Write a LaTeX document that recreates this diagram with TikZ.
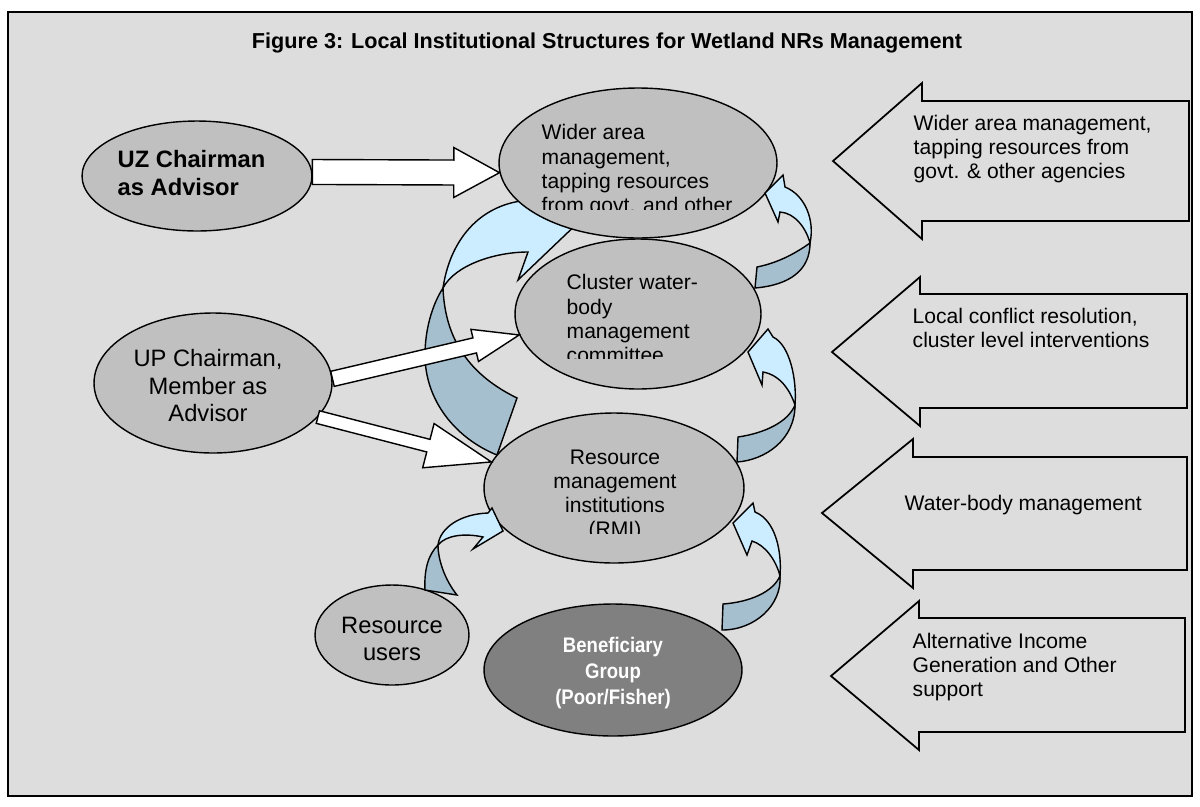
\documentclass[tikz,border=0pt]{standalone}
\usepackage{fontspec}
\setmainfont{Liberation Sans}
\newfontfamily\narrowsans[FakeStretch=0.88]{Liberation Sans}
\usepackage{xcolor}
\usetikzlibrary{shapes.geometric,calc}

\definecolor{panel}{HTML}{DDDDDD}
\definecolor{ovalgray}{HTML}{C0C0C0}
\definecolor{ovaldark}{HTML}{808080}
\definecolor{ribfront}{HTML}{CCECFF}
\definecolor{ribback}{HTML}{A6BFCF}

\tikzset{
  oval/.style={ellipse, draw, fill=ovalgray, inner sep=0pt},
  txt/.style={inner sep=0pt, align=left, font=\fontsize{12}{13.8}\selectfont},
  bigtxt/.style={inner sep=0pt, align=center, font=\fontsize{13.5}{15.6}\selectfont},
  sidearrow/.style={draw, line width=1pt},
  frontpart/.style={draw, fill=ribfront},
  backpart/.style={draw, fill=ribback}
}

% white block arrow: from, to, shaft half width, head half width, head length
\newcommand{\blockarrow}[5]{%
  \path (#1) coordinate (ba-s) (#2) coordinate (ba-t);
  \path ($(ba-t)!#5!(ba-s)$) coordinate (ba-h);
  \draw[fill=white] ($(ba-s)!#3!90:(ba-t)$) -- ($(ba-h)!#3!90:(ba-t)$) -- ($(ba-h)!#4!90:(ba-t)$)
    -- (ba-t) -- ($(ba-h)!#4!-90:(ba-t)$) -- ($(ba-h)!#3!-90:(ba-t)$) -- ($(ba-s)!#3!-90:(ba-t)$) -- cycle;
}

\begin{document}
\begin{tikzpicture}[x=0.02cm, y=-0.02cm, line width=0.8pt]
  \useasboundingbox (0,0) rectangle (1200,806);
  \draw [fill=panel, line width=1.2pt] (8,12) rectangle (1192,796);
  \node (title) at (607,43) {\bfseries\fontsize{12.3}{14}\selectfont Figure 3: Local Institutional Structures for Wetland NRs Management};

  % big turn from the RMI up to the top oval, runs under the ovals
  \draw [backpart] (497,455) .. controls (455,438) and (425,400) .. (425,355) .. controls (425,330) and (432,305) .. (443,288)
    .. controls (445,340) and (470,375) .. (517,398) -- cycle;
  \draw [frontpart] (443,288) .. controls (450,240) and (480,203) .. (530,200) -- (585,216) -- (518,280) -- (528,252)
    .. controls (495,252) and (455,265) .. (443,288) -- cycle;

  % ovals
  \node [oval, minimum width=4.6cm, minimum height=2.2cm] (uz) at (197,176) {};
  \node [oval, minimum width=4.76cm, minimum height=2.8cm] (up) at (213,383) {};
  \node [oval, minimum width=5.56cm, minimum height=3cm] (wider) at (638,163) {};
  \node [oval, minimum width=4.92cm, minimum height=3cm] (cluster) at (638,314) {};
  \node [oval, minimum width=5.2cm, minimum height=3cm] (rmi) at (614,488) {};
  \node [oval, minimum width=3.08cm, minimum height=2cm] (users) at (392,635) {};
  \node [oval, fill=ovaldark, minimum width=5.16cm, minimum height=2.64cm] (benef) at (613,670) {};

  \blockarrow{uz.2}{wider.184}{7.1pt}{14.2pt}{26pt}
  \blockarrow{up.2}{cluster.190}{4.4pt}{9.4pt}{26pt}
  \blockarrow{up.-18}{rmi.168}{3.7pt}{13pt}{37pt}

  % oval texts
  \node [bigtxt, align=left, anchor=north west, font=\bfseries\fontsize{13.5}{15.9}\selectfont] (uz-text) at (117,150) {UZ Chairman\\as Advisor};
  \node [bigtxt, anchor=north] (up-text) at (208,349) {UP Chairman,\\Member as\\Advisor};
  \node [bigtxt, anchor=north, font=\fontsize{13.5}{15.9}\selectfont] (users-text) at (392,616) {Resource\\users};
  \node [txt, align=center, anchor=north, text=white, font=\narrowsans\bfseries\fontsize{12}{14.7}\selectfont] (benef-text) at (613,637) {Beneficiary\\Group\\(Poor/Fisher)};
  \begin{scope}
    \clip (500,100) rectangle (780,209);
    \node [txt, anchor=north west] (wider-text) at (541,124) {Wider area\\management,\\tapping resources\\from govt. and other};
  \end{scope}
  \begin{scope}
    \clip (520,250) rectangle (760,358);
    \node [txt, anchor=north west] (cluster-text) at (566,274) {Cluster water-\\body\\management\\committee};
  \end{scope}
  \begin{scope}
    \clip (490,420) rectangle (740,533);
    \node [txt, align=center, anchor=north] (rmi-text) at (615,449) {Resource\\management\\institutions\\(RMI)};
  \end{scope}

  % turning arrows between the levels
  \draw [backpart] (757,267) -- (755,288) .. controls (790,285) and (810,270) .. (810,243)
    .. controls (800,250) and (782,262) .. (757,267) -- cycle;
  \draw [frontpart] (810,243) .. controls (815,220) and (805,195) .. (785,187) -- (783,175) -- (765,193) -- (778,222) -- (780,212)
    .. controls (795,213) and (806,228) .. (810,243) -- cycle;
  \draw [backpart] (738,437) -- (737,462) .. controls (765,460) and (795,440) .. (795,405)
    .. controls (788,422) and (765,433) .. (738,437) -- cycle;
  \draw [frontpart] (795,405) .. controls (797,380) and (790,345) .. (773,337) -- (768,329) -- (748,352) -- (762,385) -- (763,372)
    .. controls (780,375) and (790,390) .. (795,405) -- cycle;
  \draw [backpart] (723,604) -- (722,630) .. controls (755,630) and (782,605) .. (780,576)
    .. controls (773,592) and (750,602) .. (723,604) -- cycle;
  \draw [frontpart] (780,576) .. controls (782,550) and (775,520) .. (755,512) -- (753,503) -- (733,523) -- (747,555) -- (752,541)
    .. controls (765,545) and (776,560) .. (780,576) -- cycle;
  \draw [backpart] (425,590) -- (457,595) .. controls (445,580) and (438,560) .. (438,545)
    .. controls (428,555) and (424,570) .. (425,590) -- cycle;
  \draw [frontpart] (438,545) .. controls (440,528) and (460,514) .. (488,513) -- (492,508) -- (503,531) -- (473,549) -- (483,537)
    .. controls (465,533) and (446,535) .. (438,545) -- cycle;

  % level arrows on the right
  \draw [sidearrow] (833,161) -- (922,83) -- (922,101) -- (1189,101) -- (1189,221) -- (922,221) -- (922,239) -- cycle;
  \draw [sidearrow] (832,352) -- (920,277) -- (920,294) -- (1187,294) -- (1187,408) -- (920,408) -- (920,426) -- cycle;
  \draw [sidearrow] (822,513) -- (913,439) -- (913,457) -- (1187,457) -- (1187,570) -- (913,570) -- (913,588) -- cycle;
  \draw [sidearrow] (831,676) -- (919,601) -- (919,618) -- (1185,618) -- (1185,732) -- (919,732) -- (919,750) -- cycle;
  \node [txt, anchor=north west] (wider-note) at (913,114.5) {Wider area management,\\tapping resources from\\govt. \& other agencies};
  \node [txt, anchor=north west] (cluster-note) at (912,307.5) {Local conflict resolution,\\cluster level interventions};
  \node [txt, anchor=north west] (rmi-note) at (904,494.5) {Water-body management};
  \node [txt, anchor=north west] (benef-note) at (912,632.5) {Alternative Income\\Generation and Other\\support};
\end{tikzpicture}
\end{document}
